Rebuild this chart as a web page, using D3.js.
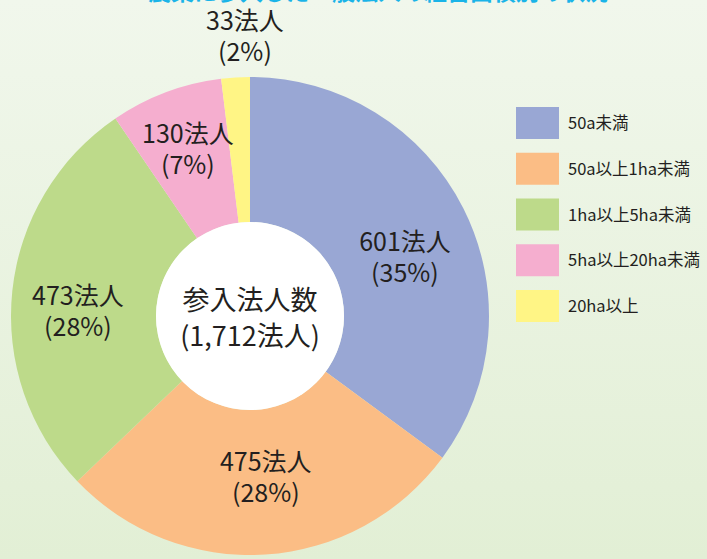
<!DOCTYPE html>
<html>
<head>
<meta charset="utf-8">
<script src="https://cdn.jsdelivr.net/npm/d3@7"></script>
<style>
  html, body { margin: 0; padding: 0; }
  body { width: 707px; height: 559px; overflow: hidden; }
  svg { display: block; }
</style>
</head>
<body>
<svg id="chart" width="707" height="559"></svg>
<script>
// Area classes and number of entering corporations
const categories = ['50a未満', '50a以上1ha未満', '1ha以上5ha未満', '5ha以上20ha未満', '20ha以上'];
const counts = [601, 475, 473, 130, 33];
const percents = ['35%', '28%', '28%', '7%', '2%'];
const colors = ['#99a7d4', '#fbbd85', '#bdda8a', '#f5aecf', '#fff585'];
const centerLines = ['参入法人数', '(1,712法人)'];
const titleText = '農業に参入した一般法人の経営面積別の状況';

// hand-tuned nudges for the slice labels (layout only)
const labelNudge = [[5, 16], [5, -8], [-5, 12], [-3, -11], [12, 0]];

const W = 707, H = 559;
const cx = 250, cy = 316;
const outerR = 239, innerR = 94;
const font = '"Noto Sans CJK JP", "Noto Sans", sans-serif';
const ink = '#231f20';

const svg = d3.select('#chart');

// background gradient
const defs = svg.append('defs');
const grad = defs.append('linearGradient')
  .attr('id', 'bg').attr('x1', 0).attr('y1', 0).attr('x2', 0).attr('y2', 1);
grad.append('stop').attr('offset', '0%').attr('stop-color', '#f1f7ec');
grad.append('stop').attr('offset', '100%').attr('stop-color', '#e2efd5');
svg.append('rect').attr('width', W).attr('height', H).attr('fill', 'url(#bg)');

// title, almost entirely cut off at the top edge
svg.append('text')
  .attr('x', 378).attr('y', -0.5)
  .attr('text-anchor', 'middle')
  .attr('font-family', font).attr('font-size', 23).attr('font-weight', 'bold')
  .attr('fill', '#1ab4e8')
  .text(titleText);

// ── Donut ───────────────────────────────────────────
const data = categories.map((c, i) => ({ cat: c, value: counts[i], pct: percents[i], color: colors[i], i }));

const pie = d3.pie().value(d => d.value).sort(null);
const arcs = pie(data);

const arc = d3.arc().innerRadius(innerR).outerRadius(outerR);
const g = svg.append('g').attr('transform', `translate(${cx},${cy})`);

g.selectAll('path.slice').data(arcs)
  .join('path')
  .attr('class', 'slice')
  .attr('d', arc)
  .attr('fill', d => d.data.color);

g.append('circle').attr('r', innerR).attr('fill', '#ffffff');

// labels: inside for big slices, outside for the smallest one
const labelArc = d3.arc().innerRadius(168).outerRadius(168);
const outArc = d3.arc().innerRadius(282).outerRadius(282);

const labels = g.selectAll('g.label').data(arcs)
  .join('g')
  .attr('class', 'label')
  .attr('transform', d => {
    const small = (d.endAngle - d.startAngle) < 0.2;
    const [x, y] = small ? outArc.centroid(d) : labelArc.centroid(d);
    const [nx, ny] = labelNudge[d.data.i];
    return `translate(${x + nx},${y + ny})`;
  });

labels.append('text')
  .attr('text-anchor', 'middle')
  .attr('y', -5)
  .attr('font-family', font).attr('font-size', 25)
  .attr('fill', ink)
  .text(d => `${d.data.value}法人`);

labels.append('text')
  .attr('text-anchor', 'middle')
  .attr('y', 26)
  .attr('font-family', font).attr('font-size', 25)
  .attr('fill', ink)
  .text(d => `(${d.data.pct})`);

// center text
g.selectAll('text.center').data(centerLines)
  .join('text')
  .attr('class', 'center')
  .attr('text-anchor', 'middle')
  .attr('y', (d, i) => -6 + i * 36)
  .attr('font-family', font).attr('font-size', 27)
  .attr('fill', ink)
  .text(d => d);

// ── Legend ──────────────────────────────────────────
const legendY = d3.scalePoint().domain(categories).range([107, 290]);
const legend = svg.append('g').attr('transform', 'translate(516,0)');

legend.selectAll('rect').data(data)
  .join('rect')
  .attr('x', 0).attr('y', d => legendY(d.cat))
  .attr('width', 43).attr('height', 32)
  .attr('fill', d => d.color);

legend.selectAll('text').data(data)
  .join('text')
  .attr('x', 52).attr('y', d => legendY(d.cat) + 22)
  .attr('font-family', font).attr('font-size', 16.5)
  .attr('fill', ink)
  .text(d => d.cat);
</script>
</body>
</html>
